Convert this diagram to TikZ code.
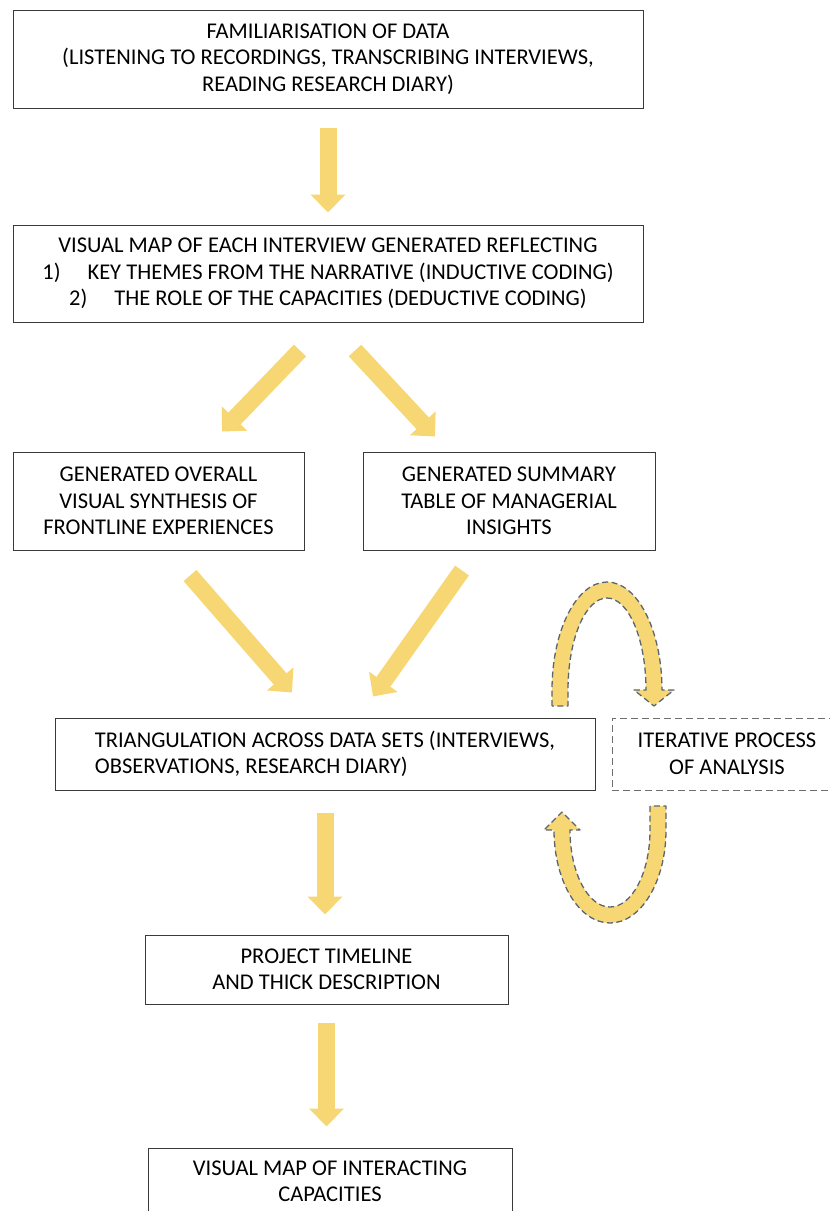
\documentclass[tikz,border=0pt]{standalone}
\usepackage{fontspec}
\setmainfont{Carlito}
\usetikzlibrary{calc,positioning,arrows.meta}
\definecolor{flowyellow}{HTML}{F7D774}
\definecolor{boxgrey}{HTML}{3A3A3A}
\definecolor{loopgrey}{HTML}{5A6475}
\definecolor{dashgrey}{HTML}{6E6E6E}

\tikzset{
  stagebox/.style={draw=boxgrey, line width=1pt, fill=white, inner sep=0pt,
    align=center, font=\fontsize{22.5}{26.5}\selectfont},
  flowarrow/.style={draw=flowyellow, line width=17pt,
    -{Triangle[length=18pt 0, width=34pt 0]}},
  loopshape/.style={fill=flowyellow, draw=loopgrey, line width=1.3pt,
    dash pattern=on 6pt off 3.5pt, line join=round},
}

\begin{document}
\begin{tikzpicture}[x=1pt,y=1pt]
  \useasboundingbox (0,0) rectangle (830,-1211);

  % stages
  \node[stagebox, minimum width=630, minimum height=98] (familiarisation) at (328,-59) {%
    FAMILIARISATION OF DATA\\
    (LISTENING TO RECORDINGS, TRANSCRIBING INTERVIEWS,\\
    READING RESEARCH DIARY)};
  \node[stagebox, minimum width=630, minimum height=97] (visualmap) at (328,-273.5) {%
    VISUAL MAP OF EACH INTERVIEW GENERATED REFLECTING\\
    1)\hspace{1.2em}KEY THEMES FROM THE NARRATIVE (INDUCTIVE CODING)\\
    2)\hspace{1.2em}THE ROLE OF THE CAPACITIES (DEDUCTIVE CODING)};
  \node[stagebox, minimum width=291, minimum height=98] (synthesis) at (158.5,-501) {%
    GENERATED OVERALL\\
    VISUAL SYNTHESIS OF\\
    FRONTLINE EXPERIENCES};
  \node[stagebox, minimum width=292, minimum height=98] (summary) at (509,-501) {%
    GENERATED SUMMARY\\
    TABLE OF MANAGERIAL\\
    INSIGHTS};
  \node[stagebox, align=left, minimum width=540, minimum height=72] (triangulation) at (325,-754) {%
    TRIANGULATION ACROSS DATA SETS (INTERVIEWS,\\
    OBSERVATIONS, RESEARCH DIARY)};
  \node[stagebox, draw=dashgrey, dash pattern=on 7pt off 4pt, minimum width=230, minimum height=72] (iterative) at (727,-754) {%
    ITERATIVE PROCESS\\
    OF ANALYSIS};
  \node[stagebox, minimum width=363, minimum height=69] (timeline) at (326.5,-969.5) {%
    PROJECT TIMELINE\\
    AND THICK DESCRIPTION};
  \node[stagebox, minimum width=364, minimum height=67] (capacities) at (330,-1181.5) {%
    VISUAL MAP OF INTERACTING\\
    CAPACITIES};

  % flow
  \draw[flowarrow, shorten <=19pt, shorten >=12pt] (familiarisation.south) -- (visualmap.north);
  \draw[flowarrow] ([xshift=-28,yshift=-28]visualmap.south) -- ([xshift=63.5,yshift=20]synthesis.north);
  \draw[flowarrow] ([xshift=27,yshift=-28]visualmap.south) -- ([xshift=-74,yshift=15]summary.north);
  \draw[flowarrow] ([xshift=31.5,yshift=-25]synthesis.south) -- ([xshift=-33,yshift=25]triangulation.north);
  \draw[flowarrow] ([xshift=-47,yshift=-20]summary.south) -- ([xshift=48,yshift=21]triangulation.north);
  \draw[flowarrow, shorten <=22pt, shorten >=20pt] (triangulation.south) -- (triangulation.south |- timeline.north);
  \draw[flowarrow, shorten <=18pt, shorten >=21pt] (timeline.south) -- (timeline.south |- capacities.north);

  % iteration loops
  \draw[loopshape] (552,-706) -- (552,-690)
    arc[start angle=180, end angle=0, x radius=55, y radius=108]
    -- (674,-690) -- (654,-706) -- (634,-690) -- (646,-690)
    arc[start angle=0, end angle=180, x radius=39, y radius=92]
    -- (568,-706) -- cycle;
  \draw[loopshape] (650,-806) -- (650,-830)
    arc[start angle=0, end angle=-180, x radius=40, y radius=77]
    -- (580,-830) -- (562,-812) -- (544,-830) -- (554,-830)
    arc[start angle=180, end angle=360, x radius=56, y radius=93]
    -- (666,-806) -- cycle;
\end{tikzpicture}
\end{document}
